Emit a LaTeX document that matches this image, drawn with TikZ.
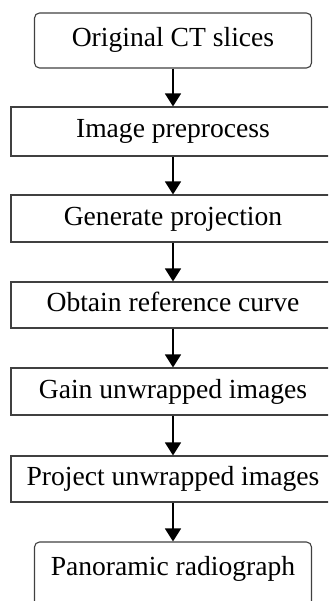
\documentclass[tikz,border=0pt]{standalone}
\usepackage{fontspec}
\setmainfont{Liberation Serif}
\usetikzlibrary{arrows.meta}
\definecolor{boxgray}{HTML}{404040}
\begin{document}
\begin{tikzpicture}[x=1bp,y=-1bp,
  stagebox/.style={draw=boxgray, line width=1.1bp, minimum width=324bp,
    inner sep=0pt, text height=19.3bp, text depth=6.3bp,
    font=\fontsize{27.6bp}{33bp}\selectfont},
  endbox/.style={stagebox, rounded corners=5bp, minimum width=277bp},
  flow/.style={line width=1.4bp, -{Triangle[width=16bp,length=13bp]}}]
  \clip (0,0) rectangle (328,601);
  % processing chain, top to bottom
  \node[endbox, minimum height=55bp] (n1) at (173,40.5) {Original CT slices};
  \node[stagebox, minimum height=49bp] (n2) at (173,131.5) {Image preprocess};
  \node[stagebox, minimum height=47bp] (n3) at (173,218.5) {Generate projection};
  \node[stagebox, minimum height=46bp] (n4) at (173,305) {Obtain reference curve};
  \node[stagebox, minimum height=47bp] (n5) at (173,391.5) {Gain unwrapped images};
  \node[stagebox, minimum height=46bp] (n6) at (173,479) {Project unwrapped images};
  \node[endbox, minimum height=66bp, text depth=19.3bp] (n7) at (173,575) {Panoramic radiograph};
  % connectors
  \draw[flow] (n1) -- (n2);
  \draw[flow] (n2) -- (n3);
  \draw[flow] (n3) -- (n4);
  \draw[flow] (n4) -- (n5);
  \draw[flow] (n5) -- (n6);
  \draw[flow] (n6) -- (n7);
\end{tikzpicture}
\end{document}
